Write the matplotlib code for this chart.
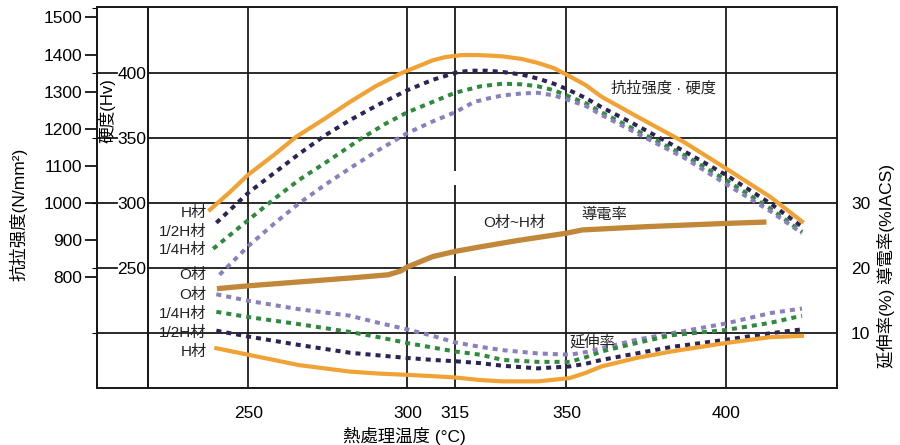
import matplotlib.pyplot as plt

plt.rcParams['font.family'] = ['Liberation Sans', 'Noto Sans CJK JP', 'DejaVu Sans']

# tensile strength / hardness after heat treatment (Hv)
t_H = [238, 244, 250, 258, 265, 274, 282, 290, 298, 304, 308, 312, 317, 322, 326, 330, 336, 341, 346,
       350, 356, 361, 372, 387, 400, 414, 424]
hv_H = [295, 308, 322, 337, 351, 365, 378, 390, 400, 406, 410, 412.5, 414, 414, 413.6, 413, 411, 408, 404,
        399, 391, 382, 367, 347, 327, 305, 286]
t_12H = [240, 250, 258, 266, 274, 282, 291, 300, 308, 316, 320, 325, 330, 336, 341, 346, 350, 356, 361,
         372, 387, 400, 414, 424]
hv_12H = [285, 308, 323, 338, 352, 364, 376, 387, 395, 401, 402, 402, 401, 399, 396, 392, 388, 381, 374,
          360, 340, 322, 300, 282]
t_14H = [239, 250, 258, 266, 276, 285, 293, 300, 308, 315, 323, 330, 336, 341, 346, 350, 356, 361, 372,
         387, 400, 414, 424]
hv_14H = [265, 287, 303, 318, 334, 349, 361, 370, 378, 385, 390, 392, 391.5, 390, 387, 383, 377, 370, 356,
          337, 318, 296, 278]
t_O = [241, 250, 258, 266, 274, 282, 291, 300, 308, 315, 321, 326, 330, 336, 341, 346, 350, 356, 361, 372,
       387, 400, 414, 424]
hv_O = [245, 267, 284, 300, 314, 327, 341, 354, 363, 370, 378, 381, 383, 384.5, 385, 383, 380, 375, 368,
        354, 335, 315, 294, 277]

# conductivity (%IACS), same for O~H temper
t_cond = [241, 250, 266, 282, 294, 298, 300, 308, 315, 323, 335, 350, 355, 375, 400, 412]
cond = [16.9, 17.3, 17.9, 18.5, 19.0, 19.6, 20.2, 21.8, 22.6, 23.3, 24.3, 25.4, 25.9, 26.4, 26.9, 27.1]

# elongation (%)
t_el = [240, 250, 266, 282, 291, 300, 308, 315, 323, 330, 341, 351, 356, 361, 372, 383, 400, 414, 424]
el_O = [16.0, 15.0, 13.7, 12.7, 11.6, 10.6, 9.6, 8.6, 7.9, 7.4, 6.9, 6.7, 7.1, 7.7, 9.0, 10.0, 11.5, 13.1, 13.8]
el_14H = [13.3, 12.5, 11.4, 10.2, 9.4, 8.5, 7.8, 7.2, 6.7, 5.9, 5.6, 5.6, 6.3, 7.2, 8.5, 9.7, 10.5, 11.6, 12.7]
el_12H = [10.4, 9.5, 8.2, 7.0, 6.6, 6.2, 5.9, 5.7, 5.4, 5.0, 4.6, 4.9, 5.3, 5.9, 6.9, 7.9, 9.0, 10.0, 10.6]
el_H = [7.7, 6.7, 5.1, 4.1, 3.8, 3.6, 3.4, 3.2, 2.8, 2.6, 2.6, 3.1, 3.9, 4.9, 6.2, 7.2, 8.5, 9.4, 9.6]

x_ticks = [250, 300, 315, 350, 400]
hv_ticks = [250, 300, 350, 400]
tensile_ticks = [800, 900, 1000, 1100, 1200, 1300, 1400, 1500]
pct_ticks = [10, 20, 30]

upper_labels = ['H材', '1/2H材', '1/4H材', 'O材']
upper_label_hv = [292.5, 278, 264, 245]
lower_labels = ['O材', '1/4H材', '1/2H材', 'H材']
lower_label_pct = [15.9, 13.0, 10.0, 7.1]

orange = '#F0A235'
brown = '#C08838'
navy = '#2D2357'
green = '#2F8A3E'
lavender = '#8B80BD'
grid_c = '#1a1a1a'
txt_c = '#222222'
dot = (0, (1.25, 1.25))

fig = plt.figure(figsize=(9, 4.45), dpi=100)
ax = fig.add_axes([97/900, 57/445, 740/900, 381/445])
ax.set_xlim(202.5, 435)
ax.set_ylim(157.9, 451)
for s in ax.spines.values():
    s.set_linewidth(1.3)
    s.set_color(grid_c)

inner = (218.5 - 202.5) / (435 - 202.5)

# grid
for hv in hv_ticks:
    ax.axhline(hv, xmin=inner, color=grid_c, lw=1.3, zorder=1)
    ax.axhline(hv, xmin=0, xmax=0.027, color=grid_c, lw=1.3, zorder=1)
for t in [250, 300, 350, 400]:
    ax.axvline(t, color=grid_c, lw=1.3, zorder=1)
# 315 line is broken in two places
ax.vlines([315, 315, 315], [325, 250.5, 157.9], [451, 314, 244], color=grid_c, lw=1.3, zorder=1)

# upper curves
ax.plot(t_H, hv_H, color=orange, lw=3, zorder=4)
ax.plot(t_12H, hv_12H, color=navy, lw=2.9, ls=dot, zorder=3)
ax.plot(t_14H, hv_14H, color=green, lw=2.9, ls=dot, zorder=3)
ax.plot(t_O, hv_O, color=lavender, lw=2.9, ls=dot, zorder=3)

ax.set_xticks(x_ticks)
ax.tick_params(axis='x', length=0, pad=13, labelsize=12.5)
ax.tick_params(axis='y', left=False, labelleft=False)

for lab, y in zip(upper_labels, upper_label_hv):
    ax.text(237, y, lab, ha='right', va='center', fontsize=11, color=txt_c)
ax.text(380.6, 388.7, '抗拉强度 · 硬度', ha='center', va='center', fontsize=11, color=txt_c)

# tensile strength scale on the outer spine
sec = ax.secondary_yaxis('left', functions=(lambda hv: 800 + (hv - 243) * 3.5,
                                            lambda ts: 243 + (ts - 800) / 3.5))
sec.set_yticks(tensile_ticks)
sec.tick_params(length=8.6, width=1.2, pad=2, labelsize=12.5)
sec.spines['left'].set_linewidth(1.3)

# hardness scale on the inner frame line
hard = ax.secondary_yaxis(inner)
hard.set_yticks(hv_ticks)
hard.tick_params(length=0, pad=1, labelsize=12.5)
hard.spines['left'].set_linewidth(1.3)

# elongation / conductivity
ax2 = ax.twinx()
ax2.set_ylim(1.58, 60.2)
ax2.set_yticks(pct_ticks)
ax2.tick_params(length=0, pad=10, labelsize=12.5)
for s in ax2.spines.values():
    s.set_linewidth(1.3)
    s.set_color(grid_c)
ax2.axhline(10, color=grid_c, lw=1.3, zorder=1)

ax2.plot(t_cond, cond, color=brown, lw=3.8, zorder=4)
ax2.plot(t_el, el_O, color=lavender, lw=2.9, ls=dot, zorder=3)
ax2.plot(t_el, el_14H, color=green, lw=2.9, ls=dot, zorder=3)
ax2.plot(t_el, el_12H, color=navy, lw=2.9, ls=dot, zorder=3)
ax2.plot(t_el, el_H, color=orange, lw=3, zorder=4)

for lab, y in zip(lower_labels, lower_label_pct):
    ax2.text(237, y, lab, ha='right', va='center', fontsize=11, color=txt_c)
ax2.text(333.5, 27.0, 'O材~H材', ha='center', va='center', fontsize=11, color=txt_c)
ax2.text(362, 28.2, '導電率', ha='center', va='center', fontsize=11, color=txt_c)
ax2.text(358.2, 8.6, '延伸率', ha='center', va='center', fontsize=11, color=txt_c)

fig.text(107/900, 1 - 111/445, '硬度(Hv)', rotation=90, ha='center', va='center', fontsize=12)
fig.text(18/900, 1 - 214/445, '抗拉强度(N/mm²)', rotation=90, ha='center', va='center', fontsize=12.5)
fig.text(886/900, 1 - 266/445, '延伸率(%) 導電率(%IACS)', rotation=90, ha='center', va='center', fontsize=12.5)
fig.text(404/900, 1 - 436/445, '熱處理温度 (°C)', ha='center', va='center', fontsize=12.5)

fig.savefig('out.png', dpi=100)
